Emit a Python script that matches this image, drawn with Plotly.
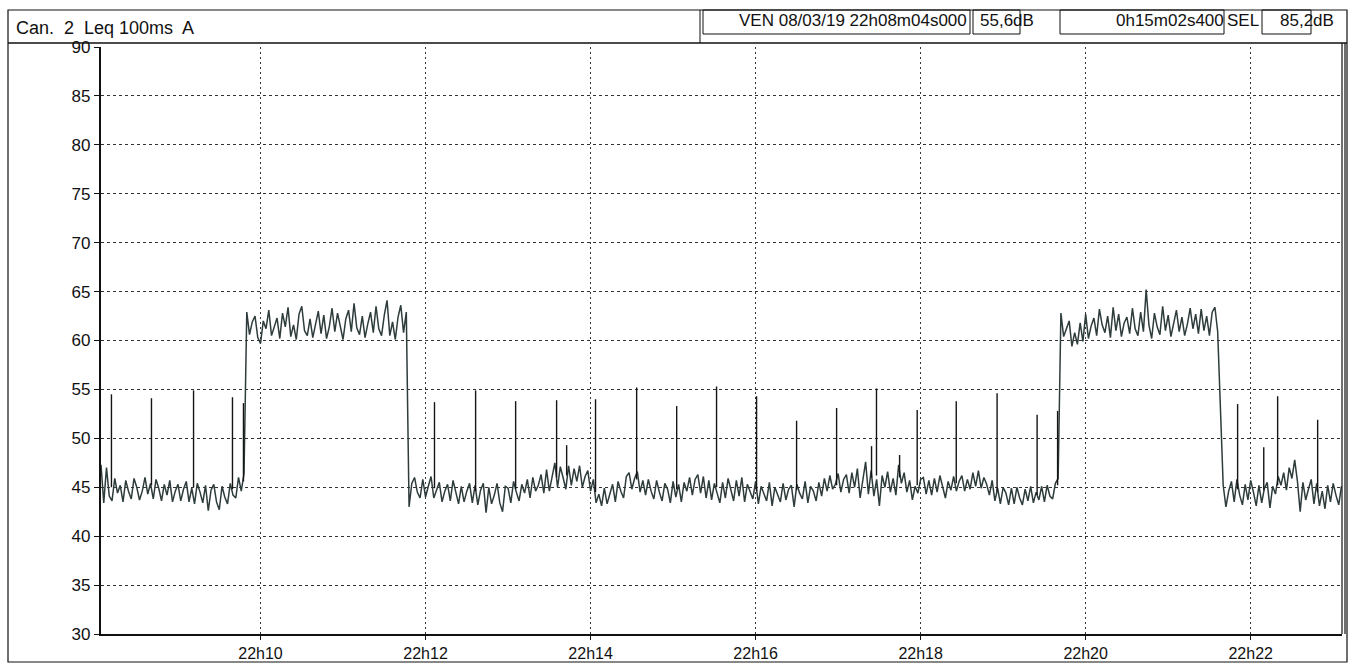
import plotly.graph_objects as go
import pandas as pd

# ---------------- data ----------------
START = pd.Timestamp("2019-03-08 22:08:04")
DURATION_S = 902.4
STEP_S = 2.0

seg_a_t0 = 0
seg_a = [47.3, 43.4, 47.0, 44.1, 43.6, 45.9, 44.4, 45.2, 43.5, 45.7,
         44.6, 43.8, 45.9, 45.0, 43.7, 44.6, 46.0, 44.3, 45.4, 43.8,
         45.8, 44.9, 43.6, 45.3, 44.2, 45.7, 43.5, 44.6, 45.3, 43.6,
         44.8, 45.6, 43.5, 44.9, 43.3, 45.4, 44.5, 43.4, 45.2, 42.6,
         44.7, 45.3, 43.5, 42.7, 45.1, 44.0, 43.3, 45.4, 44.2, 43.9,
         46.0, 44.6, 46.4]

seg_p1_t0 = 106
seg_p1 = [62.9, 60.6, 61.9, 62.5, 60.3, 59.7, 62.0, 61.2, 63.1, 60.5,
          61.5, 62.3, 60.2, 62.8, 61.4, 63.4, 60.4, 61.6, 60.1, 62.7,
          63.5, 61.0, 60.5, 62.2, 60.3, 61.8, 63.0, 60.7, 62.6, 60.2,
          61.4, 63.3, 60.9, 62.8, 61.5, 60.1, 62.2, 63.1, 60.9, 63.8,
          61.3, 60.6, 62.5, 60.3, 61.7, 62.9, 60.8, 63.5, 61.2, 60.5,
          62.6, 64.1, 60.5, 61.9, 60.1, 62.4, 63.6, 60.8, 62.9]

seg_b_t0 = 224
seg_b = [43.0, 45.4, 46.0, 44.5, 43.9, 45.8, 44.0, 45.1, 46.1, 43.9,
         44.8, 45.5, 43.5, 44.6, 45.3, 43.6, 45.7, 44.4, 43.3, 45.1,
         43.5, 44.6, 45.4, 43.4, 45.2, 43.2, 44.7, 45.4, 42.4, 45.0,
         43.3, 44.2, 45.4, 43.4, 42.5, 45.1, 44.9, 43.4, 45.6, 44.5,
         43.6, 45.3, 44.4, 45.8, 43.9, 46.0, 44.6, 45.2, 46.3, 44.4,
         46.8, 44.6, 45.9, 47.5, 45.0, 47.1, 46.0, 44.8, 47.2, 45.2,
         46.9, 45.6, 47.2, 45.0, 46.1, 46.7, 44.6, 45.8, 43.4, 44.3,
         43.1, 44.9, 43.3, 44.2, 45.3, 43.5, 45.6, 44.6, 43.9, 46.1,
         46.5, 44.8, 45.9, 46.6, 44.5, 45.7, 44.2, 45.8, 44.6, 43.8,
         45.7, 44.5, 43.6, 45.4, 44.8, 43.4, 45.6, 44.0, 45.3, 43.5,
         45.5, 44.6, 46.0, 44.2, 45.8, 46.3, 44.4, 46.1, 43.9, 45.7,
         43.7, 45.4, 44.5, 43.4, 45.5, 43.9, 45.9, 44.8, 43.6, 45.7,
         44.1, 46.0, 43.5, 45.3, 44.6, 43.8, 45.6, 43.3, 45.1, 44.4,
         43.6, 45.5, 43.1, 45.0, 44.3, 43.5, 45.4, 43.7, 44.8, 45.2,
         43.0, 45.3, 44.4, 43.8, 45.6, 43.4, 45.1, 44.6, 43.6, 45.5,
         44.1, 45.9, 44.6, 46.2, 44.8, 45.3, 46.4, 44.5, 45.8, 46.3,
         44.4, 46.5, 45.0, 46.9, 43.9, 45.6, 47.6, 44.3, 46.7, 44.1,
         45.8, 43.1, 46.2, 45.0, 46.6, 44.5, 45.9, 44.2, 47.3, 45.4,
         46.5, 44.5, 45.7, 43.7, 45.1, 44.4, 45.8, 46.0, 44.3, 45.7,
         44.2, 45.9, 44.5, 46.2, 45.0, 43.9, 45.6, 44.7, 46.1, 44.6,
         45.6, 46.2, 44.6, 45.8, 44.8, 46.5, 45.1, 46.7, 44.9, 46.0,
         45.3, 44.2, 45.7, 43.6, 44.9, 43.3, 45.0, 44.4, 43.2, 44.9,
         43.3, 45.0, 43.9, 43.2, 44.8, 43.6, 45.1, 43.4, 44.5, 43.7,
         45.1, 43.5, 45.2, 44.1, 43.8, 45.4, 45.9]

seg_p2_t0 = 698
seg_p2 = [62.8, 60.4, 61.3, 62.0, 59.4, 60.8, 59.6, 61.8, 59.9, 62.7,
          60.2, 61.5, 62.3, 60.5, 63.2, 61.6, 60.8, 62.5, 60.3, 63.4,
          61.0, 62.7, 60.4, 61.8, 62.4, 60.7, 63.3, 61.2, 60.5, 62.9,
          60.9, 65.2, 61.6, 60.2, 62.8, 61.4, 60.6, 63.5, 61.0, 62.6,
          60.4, 61.9, 63.1, 60.9, 62.4, 60.5, 61.7, 63.3, 61.2, 62.7,
          60.7, 63.2, 61.0, 62.5, 60.5, 62.9, 63.4, 60.9]

seg_c_t0 = 814
seg_c = [52.0, 45.2, 43.0, 44.6, 45.6, 43.5, 45.8, 44.2, 43.2, 45.3,
         43.7, 45.7, 44.5, 43.1, 45.2, 43.4, 44.9, 45.5, 42.9, 45.1,
         44.3, 46.1, 45.2, 46.5, 44.7, 47.0, 45.9, 47.8, 45.6, 42.5,
         45.5, 43.7, 44.8, 45.8, 43.3, 45.4, 43.1, 44.6, 42.8, 45.2,
         43.5, 45.4, 44.2, 43.2, 45.1]

spike_t = [7.6, 36.7, 67.3, 95.6, 103.6, 242.5, 272.4, 301.5, 331.3, 338.6,
           359.6, 389.5, 418.6, 447.6, 476.7, 505.8, 534.9, 560.3, 563.9, 580.7,
           593.5, 621.9, 651.6, 680.7, 695.6, 826.5, 845.5, 855.6, 884.7]
spike_peak = [54.5, 54.1, 54.9, 54.2, 53.6, 53.7, 54.9, 53.8, 53.9, 49.3,
              54.0, 55.2, 53.3, 55.3, 54.3, 51.8, 53.1, 49.2, 55.1, 48.3,
              52.9, 53.8, 54.6, 52.4, 52.8, 53.5, 49.1, 54.3, 51.9]
spike_foot = [45.0, 45.2, 45.0, 44.8, 45.6, 44.9, 44.6, 44.8, 46.0, 46.2,
              44.5, 45.8, 44.8, 45.0, 44.6, 44.7, 45.2, 46.0, 46.2, 46.0,
              45.2, 45.4, 44.6, 44.2, 45.2, 44.8, 44.7, 45.2, 44.5]

y_ticks = [30, 35, 40, 45, 50, 55, 60, 65, 70, 75, 80, 85, 90]

header_left = "Can.  2  Leq 100ms  A"
header_date = "VEN 08/03/19 22h08m04s000"
header_leq = "55,6"
header_dur = "0h15m02s400"
header_sel = "85,2"

# ---------------- build series ----------------
seg_list = [(seg_a_t0, seg_a), (seg_p1_t0, seg_p1), (seg_b_t0, seg_b),
            (seg_p2_t0, seg_p2), (seg_c_t0, seg_c)]
t_all, v_all = [], []
for t0, vals in seg_list:
    for i, v in enumerate(vals):
        t_all.append(t0 + i * STEP_S)
        v_all.append(v)
x_all = [START + pd.Timedelta(seconds=t) for t in t_all]

sx, sy = [], []
for t, p, f in zip(spike_t, spike_peak, spike_foot):
    ts = START + pd.Timedelta(seconds=t)
    sx += [ts, ts, None]
    sy += [f, p, None]

# ---------------- geometry helpers ----------------
W_FIG, H_FIG = 1352, 664
L, R, T, B = 101, 1342, 47, 634
PW, PH = R - L, B - T


def px(x):
    return (x - L) / PW


def py(y):
    return (B - y) / PH


FONT = "Liberation Sans, Arial, sans-serif"

fig = go.Figure()
fig.add_trace(go.Scatter(x=x_all, y=v_all, mode="lines",
                         line=dict(color="#2f3c3c", width=1.5),
                         hoverinfo="skip", showlegend=False))
fig.add_trace(go.Scatter(x=sx, y=sy, mode="lines",
                         line=dict(color="#151515", width=1.4),
                         hoverinfo="skip", showlegend=False))

shapes = []
black = "#111111"
# outer frame
shapes.append(dict(type="rect", xref="paper", yref="paper",
                   x0=px(8), x1=px(1347), y0=py(662), y1=py(10),
                   line=dict(color=black, width=1.2)))
# header bottom line
shapes.append(dict(type="line", xref="paper", yref="paper",
                   x0=px(8), x1=px(1347), y0=py(43), y1=py(43),
                   line=dict(color=black, width=1.6)))
# left header box right edge
shapes.append(dict(type="line", xref="paper", yref="paper",
                   x0=px(700), x1=px(700), y0=py(43), y1=py(10),
                   line=dict(color=black, width=1)))
# right boxes
for x0, x1 in [(703, 970), (973, 1020), (1060, 1224), (1262, 1311)]:
    shapes.append(dict(type="rect", xref="paper", yref="paper",
                       x0=px(x0), x1=px(x1), y0=py(34), y1=py(10),
                       line=dict(color=black, width=1)))
# double right border of plot
for xx in (1342, 1345):
    shapes.append(dict(type="line", xref="paper", yref="paper",
                       x0=px(xx), x1=px(xx), y0=py(B), y1=py(43),
                       line=dict(color=black, width=1.2)))
fig.update_layout(shapes=shapes)

ann = []
hf = dict(family=FONT, size=18, color=black)
ann.append(dict(text=header_left, x=px(14), y=py(28), xref="paper", yref="paper",
                xanchor="left", yanchor="middle", showarrow=False, font=hf))
sf = dict(family=FONT, size=17, color=black)
ann.append(dict(text=header_date, x=px(969), y=py(21), xref="paper", yref="paper",
                xanchor="right", yanchor="middle", showarrow=False, font=sf))
ann.append(dict(text=header_leq + "dB", x=px(1036), y=py(21), xref="paper", yref="paper",
                xanchor="right", yanchor="middle", showarrow=False, font=sf))
ann.append(dict(text=header_dur, x=px(1226), y=py(21), xref="paper", yref="paper",
                xanchor="right", yanchor="middle", showarrow=False, font=sf))
ann.append(dict(text="SEL", x=px(1243), y=py(21), xref="paper", yref="paper",
                xanchor="center", yanchor="middle", showarrow=False, font=sf))
ann.append(dict(text=header_sel + "dB", x=px(1336), y=py(21), xref="paper", yref="paper",
                xanchor="right", yanchor="middle", showarrow=False, font=sf))
fig.update_layout(annotations=ann)

fig.update_xaxes(type="date", automargin=False,
                 range=[START, START + pd.Timedelta(seconds=DURATION_S)],
                 tick0="2019-03-08 22:00:00", dtick=120000, tickformat="%Hh%M",
                 showgrid=True, gridcolor="#333333", gridwidth=1, griddash="2px,3px",
                 ticks="outside", ticklen=4, tickcolor=black, tickwidth=1,
                 showline=True, linecolor=black, linewidth=1.5, mirror=False,
                 zeroline=False,
                 tickfont=dict(family=FONT, size=16, color=black))
fig.update_yaxes(range=[30, 90], automargin=False,
                 tickvals=y_ticks, ticktext=[str(v) for v in y_ticks],
                 showgrid=True, gridcolor="#333333", gridwidth=1, griddash="3px,3px",
                 ticks="outside", ticklen=5, tickcolor=black, tickwidth=1,
                 showline=True, linecolor=black, linewidth=2.2,
                 zeroline=False,
                 tickfont=dict(family=FONT, size=17, color=black))

fig.update_layout(width=W_FIG, height=H_FIG,
                  margin=dict(l=L, r=W_FIG - R, t=T, b=H_FIG - B),
                  paper_bgcolor="white", plot_bgcolor="white",
                  showlegend=False)

fig.write_html("out.html", config={"displayModeBar": False},
               post_script="document.body.style.margin='0';document.body.style.overflow='hidden';")
